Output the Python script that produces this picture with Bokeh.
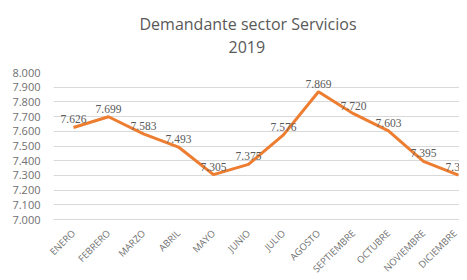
import math
from bokeh.plotting import figure
from bokeh.models import ColumnDataSource, LabelSet, Range1d, FixedTicker, Title
from bokeh.embed import file_html
from bokeh.resources import INLINE

months = ["ENERO", "FEBRERO", "MARZO", "ABRIL", "MAYO", "JUNIO", "JULIO",
          "AGOSTO", "SEPTIEMBRE", "OCTUBRE", "NOVIEMBRE", "DICIEMBRE"]
values = [7626, 7699, 7583, 7493, 7305, 7375, 7576, 7869, 7720, 7603, 7395, 7302]
y_ticks = [7000, 7100, 7200, 7300, 7400, 7500, 7600, 7700, 7800, 7900, 8000]
title_1 = "Demandante sector Servicios"
title_2 = "2019"

def fmt(v):
    return f"{v:,}".replace(",", ".")

idx = list(range(len(months)))
src = ColumnDataSource(dict(x=idx, y=values, lab=[fmt(v) for v in values]))

FONT = "Open Sans"
GRAY = "#595959"
LGRAY = "#6f6f6f"

p = figure(frame_width=406, frame_height=147, output_backend="svg",
           toolbar_location=None, title=None,
           x_range=Range1d(-0.571, 11.03), y_range=Range1d(7000, 8000),
           min_border_left=53, min_border_right=0, min_border_top=72,
           min_border_bottom=53)
p.outline_line_color = None
p.background_fill_color = "white"

spacer = Title(text=" ", standoff=8, text_font_size="6px",
               text_color="white")
sub = Title(text=title_2, align="left", offset=175, standoff=8,
            text_font=FONT, text_font_size="16px", text_font_style="normal",
            text_color=GRAY)
main = Title(text=title_1, align="left", offset=86, standoff=0,
             text_font=FONT, text_font_size="16px", text_font_style="normal",
             text_color=GRAY)
p.add_layout(spacer, "above")
p.add_layout(sub, "above")
p.add_layout(main, "above")

p.line("x", "y", source=src, line_color="#ED7D31", line_width=3)

labels = LabelSet(x="x", y="y", text="lab", source=src, text_align="center",
                  text_baseline="bottom", x_offset=0, y_offset=4,
                  text_font_size="11.5px", text_color=GRAY, text_font=FONT)
p.add_layout(labels)

# y axis
p.yaxis.ticker = FixedTicker(ticks=y_ticks)
p.yaxis.major_label_overrides = {t: fmt(t) for t in y_ticks}
p.yaxis.axis_line_color = None
p.yaxis.major_tick_line_color = None
p.yaxis.minor_tick_line_color = None
p.yaxis.major_label_text_font_size = "11px"
p.yaxis.major_label_text_color = LGRAY
p.yaxis.major_label_text_font = FONT
p.yaxis.major_label_standoff = 7

# x axis
p.xaxis.ticker = FixedTicker(ticks=idx)
p.xaxis.major_label_overrides = {i: m for i, m in zip(idx, months)}
p.xaxis.major_label_orientation = math.pi / 4
p.xaxis.axis_line_color = "#D9D9D9"
p.xaxis.major_tick_line_color = None
p.xaxis.minor_tick_line_color = None
p.xaxis.major_label_text_font_size = "9.5px"
p.xaxis.major_label_text_color = LGRAY
p.xaxis.major_label_text_font = FONT
p.xaxis.major_label_standoff = 6

p.xgrid.grid_line_color = None
p.ygrid.ticker = FixedTicker(ticks=y_ticks)
p.ygrid.grid_line_color = "#D9D9D9"
p.ygrid.grid_line_width = 1

open("out.html", "w").write(file_html(p, INLINE))
